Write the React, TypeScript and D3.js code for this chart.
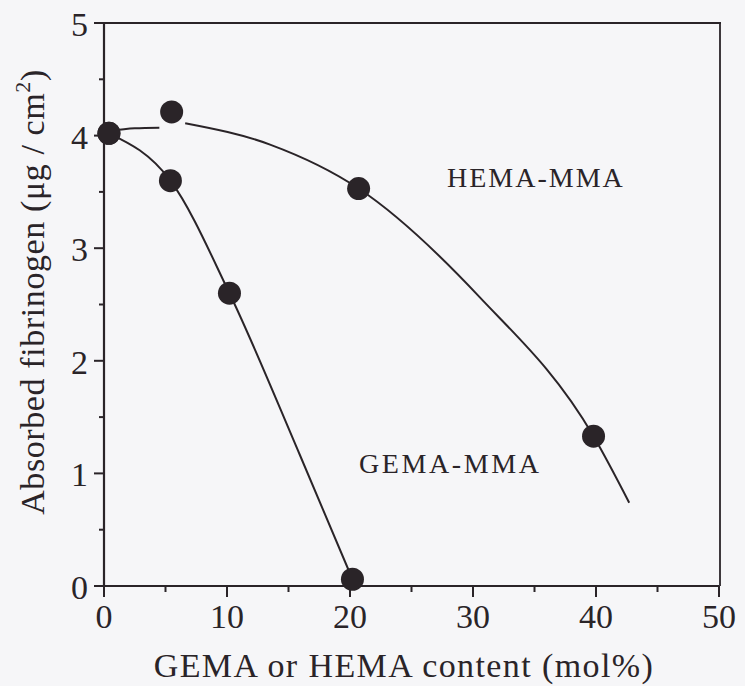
import React from "react";
import * as d3 from "d3";

// Measured series: fibrinogen adsorption vs. monomer content
const hemaX = [0.4, 5.5, 20.7, 39.8];
const hemaY = [4.02, 4.21, 3.53, 1.33];
const gemaX = [0.4, 5.4, 10.2, 20.2];
const gemaY = [4.02, 3.6, 2.6, 0.06];

// Hand-drawn trend curves (x, y) through each series
const hemaCurveLeft: [number, number][] = [[0.4, 4.04], [2.5, 4.065], [4.5, 4.07]];
const hemaCurveRight: [number, number][] = [
  [6.6, 4.11], [13.5, 3.92], [20.7, 3.53], [30.5, 2.57], [39.8, 1.33], [42.7, 0.74],
];
const gemaCurve: [number, number][] = [
  [0.4, 4.02], [5.4, 3.6], [10.2, 2.6], [15.9, 1.17], [20.2, 0.06],
];

const xMajor = [0, 10, 20, 30, 40, 50];
const xMinor = [5, 15, 25, 35, 45];
const yMajor = [0, 1, 2, 3, 4, 5];
const yMinor = [0.5, 1.5, 2.5, 3.5, 4.5];

const seriesLabels = ["HEMA-MMA", "GEMA-MMA"];
const xTitle = "GEMA or HEMA content (mol%)";

const W = 745;
const H = 686;
const ink = "#2a2428";
const font = "'Liberation Serif', 'Times New Roman', serif";

export default function App() {
  const x = d3.scaleLinear().domain([0, 50]).range([104, 719]);
  const y = d3.scaleLinear().domain([0, 5]).range([586, 23]);

  const line = d3
    .line<[number, number]>()
    .x((d) => x(d[0]))
    .y((d) => y(d[1]))
    .curve(d3.curveMonotoneX);

  const hemaPts = hemaX.map((v, i) => [v, hemaY[i]] as [number, number]);
  const gemaPts = gemaX.map((v, i) => [v, gemaY[i]] as [number, number]);

  return (
    <svg
      width={W}
      height={H}
      style={{ position: "absolute", left: 0, top: 0, background: "#f6f6f8" }}
      fontFamily={font}
    >
      <rect x={0} y={0} width={W} height={H} fill="#f6f6f8" />

      {/* frame */}
      <line x1={x(0)} x2={x(50)} y1={y(0)} y2={y(0)} stroke={ink} strokeWidth={2.2} />
      <line x1={x(0)} x2={x(0)} y1={y(0)} y2={y(5)} stroke={ink} strokeWidth={2.2} />
      <line x1={x(0)} x2={x(50) + 2} y1={y(5)} y2={y(5)} stroke={ink} strokeWidth={2.2} />
      <line x1={x(50) + 1} x2={x(50) + 1} y1={y(5)} y2={y(0)} stroke={ink} strokeWidth={1.8} />

      {/* x ticks */}
      {xMajor.map((t) => (
        <g key={"xm" + t}>
          <line x1={x(t)} x2={x(t)} y1={y(0)} y2={y(0) + 11} stroke={ink} strokeWidth={2} />
          <text x={x(t)} y={628} fontSize={34} textAnchor="middle" fill={ink}>
            {t}
          </text>
        </g>
      ))}
      {xMinor.map((t) => (
        <line key={"xn" + t} x1={x(t)} x2={x(t)} y1={y(0)} y2={y(0) + 6} stroke={ink} strokeWidth={2} />
      ))}

      {/* y ticks */}
      {yMajor.map((t) => (
        <g key={"ym" + t}>
          <line x1={x(0) - 10} x2={x(0)} y1={y(t)} y2={y(t)} stroke={ink} strokeWidth={2} />
          <text x={88} y={y(t) + 13} fontSize={34} textAnchor="end" fill={ink}>
            {t}
          </text>
        </g>
      ))}
      {yMinor.map((t) => (
        <line key={"yn" + t} x1={x(0) - 5} x2={x(0)} y1={y(t)} y2={y(t)} stroke={ink} strokeWidth={2} />
      ))}

      {/* curves */}
      <path d={line(hemaCurveLeft) || ""} fill="none" stroke={ink} strokeWidth={2} />
      <path d={line(hemaCurveRight) || ""} fill="none" stroke={ink} strokeWidth={2} />
      <path d={line(gemaCurve) || ""} fill="none" stroke={ink} strokeWidth={2} />

      {/* markers */}
      {hemaPts.map((p, i) => (
        <circle key={"h" + i} cx={x(p[0])} cy={y(p[1])} r={11.5} fill={ink} />
      ))}
      {gemaPts.map((p, i) => (
        <circle key={"g" + i} cx={x(p[0])} cy={y(p[1])} r={11.5} fill={ink} />
      ))}

      {/* series labels */}
      <text x={447} y={187} fontSize={28} letterSpacing={2} fill={ink}>
        {seriesLabels[0]}
      </text>
      <text x={359} y={473} fontSize={28} letterSpacing={2.6} fill={ink}>
        {seriesLabels[1]}
      </text>

      {/* axis titles */}
      <text x={404} y={677} fontSize={34} letterSpacing={1.4} textAnchor="middle" fill={ink}>
        {xTitle}
      </text>
      <text
        transform={`translate(44, 292) rotate(-90)`}
        fontSize={34}
        letterSpacing={0.6}
        textAnchor="middle"
        fill={ink}
      >
        Absorbed fibrinogen (μg / cm
        <tspan fontSize={22} dy={-14}>2</tspan>
        <tspan dy={14}>)</tspan>
      </text>
    </svg>
  );
}
